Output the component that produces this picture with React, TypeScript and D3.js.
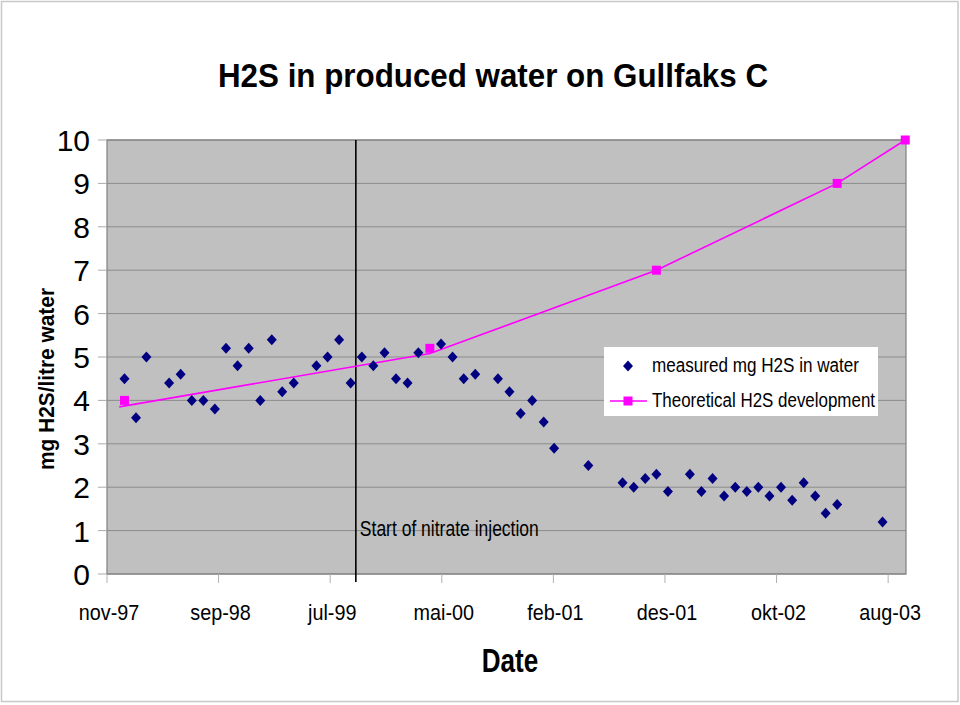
import React from "react";
import * as d3 from "d3";

// ---- data ----
const measuredDates = [
  "1998-01-01","1998-02-01","1998-03-01","1998-05-01","1998-06-01","1998-07-01","1998-08-01","1998-09-01",
  "1998-10-01","1998-11-01","1998-12-01","1999-01-01","1999-02-01","1999-03-01","1999-04-01","1999-06-01",
  "1999-07-01","1999-08-01","1999-09-01","1999-10-01","1999-11-01","1999-12-01","2000-01-01","2000-02-01",
  "2000-03-01","2000-05-01","2000-06-01","2000-07-01","2000-08-01","2000-10-01","2000-11-01","2000-12-01",
  "2001-01-01","2001-02-01","2001-03-01","2001-06-01","2001-09-01","2001-10-01","2001-11-01","2001-12-01",
  "2002-01-01","2002-03-01","2002-04-01","2002-05-01","2002-06-01","2002-07-01","2002-08-01","2002-09-01",
  "2002-10-01","2002-11-01","2002-12-01","2003-01-01","2003-02-01","2003-03-01","2003-04-01","2003-08-01",
];
const measuredValues = [
  4.5, 3.6, 5.0, 4.4, 4.6, 4.0, 4.0, 3.8,
  5.2, 4.8, 5.2, 4.0, 5.4, 4.2, 4.4, 4.8,
  5.0, 5.4, 4.4, 5.0, 4.8, 5.1, 4.5, 4.4,
  5.1, 5.3, 5.0, 4.5, 4.6, 4.5, 4.2, 3.7,
  4.0, 3.5, 2.9, 2.5, 2.1, 2.0, 2.2, 2.3,
  1.9, 2.3, 1.9, 2.2, 1.8, 2.0, 1.9, 2.0,
  1.8, 2.0, 1.7, 2.1, 1.8, 1.4, 1.6, 1.2,
];
const theoreticalDates = ["1998-01-01", "2000-04-01", "2001-12-01", "2003-04-01", "2003-10-01"];
const theoreticalValues = [4.0, 5.2, 7.0, 9.0, 10.0];
const theoreticalLineDates = ["1997-12-18", "2000-04-01", "2001-12-01", "2003-04-01", "2003-10-01"];
const theoreticalLineValues = [3.85, 5.08, 7.0, 9.0, 10.0];

const xDomain = ["1997-11-15", "2003-10-03"];
const xTickDates = ["1997-11-15", "1998-09-11", "1999-07-08", "2000-05-03", "2001-02-27", "2001-12-24", "2002-10-20", "2003-08-16"];
const xTickLabels = ["nov-97", "sep-98", "jul-99", "mai-00", "feb-01", "des-01", "okt-02", "aug-03"];
const yTicks = [0, 1, 2, 3, 4, 5, 6, 7, 8, 9, 10];
const injectionDate = "1999-09-15";

const title = "H2S in produced water on Gullfaks C";
const yTitle = "mg H2S/litre water";
const xTitle = "Date";
const annotation = "Start of nitrate injection";
const legendLabels = ["measured mg H2S in water", "Theoretical H2S development"];

const FONT = "'Liberation Sans', Arial, sans-serif";

export default function App() {
  const parse = (s: string) => new Date(s + "T00:00:00Z");
  const x = d3.scaleUtc().domain(xDomain.map(parse)).range([107, 906]);
  const y = d3.scaleLinear().domain([0, 10]).range([574, 140]);
  const [x0, x1] = x.range();
  const [yb, yt] = y.range();

  const measured = measuredDates.map((d, i) => ({ d: parse(d), v: measuredValues[i] }));
  const theo = theoreticalDates.map((d, i) => ({ d: parse(d), v: theoreticalValues[i] }));
  const theoLine = theoreticalLineDates.map((d, i) => ({ d: parse(d), v: theoreticalLineValues[i] }));
  const line = d3.line<{ d: Date; v: number }>().x((p) => x(p.d)).y((p) => y(p.v));

  const diamond = (cx: number, cy: number) =>
    `M${cx},${cy - 5.5}L${cx + 5},${cy}L${cx},${cy + 5.5}L${cx - 5},${cy}Z`;

  const injX = x(parse(injectionDate));

  return (
    <svg width={960} height={705} style={{ position: "absolute", left: 0, top: 0, background: "#fff" }} fontFamily={FONT}>
      <rect x={1.5} y={1.5} width={956.5} height={700} fill="#fff" stroke="#c8c8c8" strokeWidth={1.5} />
      {/* title */}
      <text x={218} y={87} fontSize={33} fontWeight="bold" textLength={550} lengthAdjust="spacingAndGlyphs">{title}</text>

      {/* plot area */}
      <rect x={x0} y={yt} width={x1 - x0} height={yb - yt} fill="#c0c0c0" />
      {yTicks.map((t) => (
        <line key={"g" + t} x1={x0} x2={x1} y1={y(t)} y2={y(t)} stroke="#8c8c8c" strokeWidth={1} />
      ))}
      <rect x={x0} y={yt} width={x1 - x0} height={yb - yt} fill="none" stroke="#808080" strokeWidth={1.2} />

      {/* y ticks & labels */}
      {yTicks.map((t) => (
        <g key={"y" + t}>
          <line x1={x0 - 9} x2={x0} y1={y(t)} y2={y(t)} stroke="#aaaaaa" />
          <text x={90} y={y(t) + 11} fontSize={30} textAnchor="end">{t}</text>
        </g>
      ))}
      <text transform={`translate(54,379) rotate(-90)`} fontSize={22} fontWeight="bold" textAnchor="middle" textLength={182} lengthAdjust="spacingAndGlyphs">{yTitle}</text>

      {/* x ticks & labels */}
      {xTickDates.map((d, i) => {
        const tx = x(parse(d));
        return (
          <g key={"x" + d}>
            <line x1={tx} x2={tx} y1={yb} y2={yb + 9} stroke="#b0b0b0" />
            <text transform={`translate(${tx + 2},620) scale(0.9,1)`} fontSize={22} textAnchor="middle">{xTickLabels[i]}</text>
          </g>
        );
      })}
      <text transform={`translate(510,672) scale(0.79,1)`} fontSize={33} fontWeight="bold" textAnchor="middle">{xTitle}</text>

      {/* injection marker */}
      <line x1={injX} x2={injX} y1={yt} y2={yb + 8} stroke="#000" strokeWidth={1.6} />
      <text x={injX + 4} y={536} fontSize={22} textLength={179} lengthAdjust="spacingAndGlyphs">{annotation}</text>

      {/* theoretical line */}
      <path d={line(theoLine) || ""} fill="none" stroke="#ff00ff" strokeWidth={1.6} />
      {theo.map((p, i) => (
        <rect key={"t" + i} x={x(p.d) - 4.5} y={y(p.v) - 4.5} width={9} height={9} fill="#ff00ff" />
      ))}

      {/* measured */}
      {measured.map((p, i) => (
        <path key={"m" + i} d={diamond(x(p.d), y(p.v))} fill="#000080" />
      ))}

      {/* legend */}
      <rect x={604} y={347} width={274} height={69} fill="#fff" />
      <path d={diamond(628, 366)} fill="#000080" />
      <text x={652} y={372} fontSize={20} textLength={207} lengthAdjust="spacingAndGlyphs">{legendLabels[0]}</text>
      <line x1={610} x2={647} y1={401} y2={401} stroke="#ff00ff" strokeWidth={1.6} />
      <rect x={623.5} y={396.5} width={9} height={9} fill="#ff00ff" />
      <text x={652} y={407} fontSize={20} textLength={223} lengthAdjust="spacingAndGlyphs">{legendLabels[1]}</text>
    </svg>
  );
}
